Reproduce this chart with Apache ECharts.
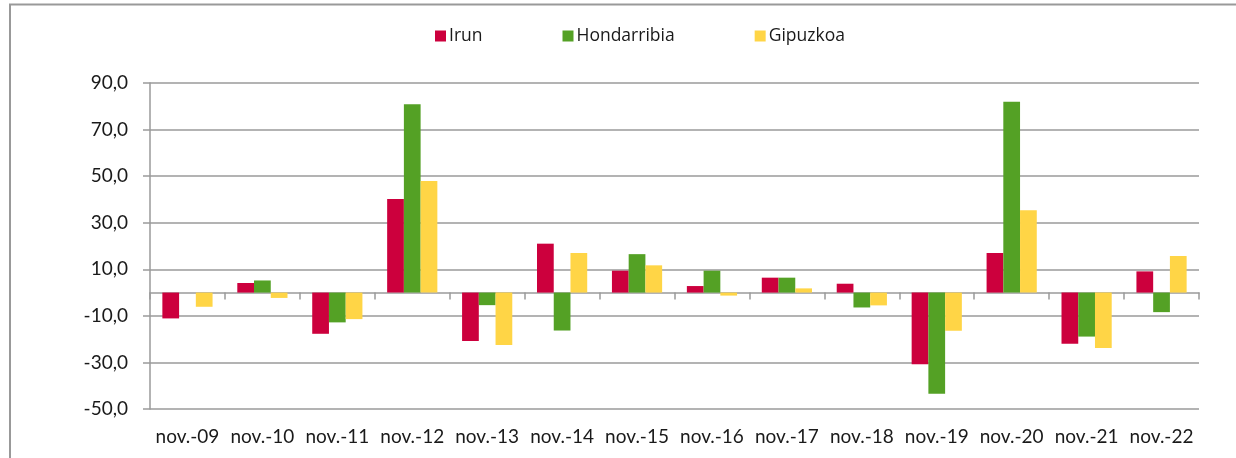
<!DOCTYPE html>
<html>
<head>
<meta charset="utf-8">
<script src="https://cdn.jsdelivr.net/npm/echarts@6/dist/echarts.min.js"></script>
<style>
html,body{margin:0;padding:0;background:#fff;}
#chart{width:1236px;height:458px;}
</style>
</head>
<body>
<div id="chart"></div>
<script>
const categories = ['nov.-09','nov.-10','nov.-11','nov.-12','nov.-13','nov.-14','nov.-15','nov.-16','nov.-17','nov.-18','nov.-19','nov.-20','nov.-21','nov.-22'];
const irun        = [-11.1, 4.1, -17.7, 40.2, -20.8, 21.0, 9.4, 2.8, 6.4, 3.8, -30.8, 17.0, -22.0, 9.1];
const hondarribia = [0.0, 5.2, -12.8, 80.9, -5.4, -16.3, 16.5, 9.4, 6.4, -6.4, -43.5, 81.9, -18.9, -8.4];
const gipuzkoa    = [-6.1, -2.3, -11.4, 47.9, -22.5, 17.0, 11.7, -1.3, 1.8, -5.5, -16.4, 35.3, -23.8, 15.7];
const yTickValues = [-50, -30, -10, 10, 30, 50, 70, 90];
const yTickLabels = ['-50,0', '-30,0', '-10,0', '10,0', '30,0', '50,0', '70,0', '90,0'];

const chart = echarts.init(document.getElementById('chart'));
const gridColor = '#9a9a9a';
const axisFont = { fontFamily: 'Lato', fontSize: 19, color: '#1a1a1a' };

chart.setOption({
  animation: false,
  backgroundColor: '#fff',
  graphic: [{
    type: 'rect', silent: true,
    shape: { x: 10, y: 4.5, width: 1240, height: 455 },
    style: { fill: 'none', stroke: '#999', lineWidth: 2 }
  }],
  legend: {
    left: 430, top: 22,
    itemWidth: 11, itemHeight: 11, itemGap: 80,
    icon: 'rect',
    textStyle: { fontFamily: 'Open Sans', fontSize: 17.5, color: '#1a1a1a', padding: [0, 0, 0, -2] },
    data: ['Irun', 'Hondarribia', 'Gipuzkoa']
  },
  grid: { left: 150, right: 37, top: 83, bottom: 49, containLabel: false },
  xAxis: [{
    type: 'category', data: categories, position: 'bottom',
    axisLine: { show: false, onZero: false },
    axisTick: { show: false },
    axisLabel: Object.assign({ margin: 18, interval: 0 }, axisFont)
  }, {
    type: 'category', data: categories, position: 'bottom',
    axisLine: { show: true, onZero: true, lineStyle: { color: gridColor, width: 1.5 } },
    axisTick: { show: true, length: 7, alignWithLabel: false, interval: 0, lineStyle: { color: gridColor, width: 1.5 } },
    axisLabel: { show: false }
  }],
  yAxis: [{
    type: 'value', min: -50, max: 90, interval: 10,
    axisLine: { show: true, lineStyle: { color: gridColor, width: 1.5 } },
    axisTick: { show: false },
    splitLine: { show: true, lineStyle: { color: [gridColor, 'rgba(0,0,0,0)'], width: 1.5 } },
    axisLabel: Object.assign({
      margin: 22,
      formatter: function (v) {
        const i = yTickValues.indexOf(Math.round(v));
        return i >= 0 ? yTickLabels[i] : '';
      }
    }, axisFont)
  }, {
    type: 'value', min: 0, max: 140, interval: 20, position: 'left',
    axisLine: { show: false },
    axisTick: { show: true, length: 7, lineStyle: { color: gridColor, width: 1.5 } },
    splitLine: { show: false },
    axisLabel: { show: false }
  }],
  series: [
    { name: 'Irun', type: 'bar', data: irun, barGap: '0%', barCategoryGap: '33%',
      itemStyle: { color: '#CC003D' } },
    { name: 'Hondarribia', type: 'bar', data: hondarribia, barGap: '0%', barCategoryGap: '33%',
      itemStyle: { color: '#54A125' } },
    { name: 'Gipuzkoa', type: 'bar', data: gipuzkoa, barGap: '0%', barCategoryGap: '33%',
      itemStyle: { color: '#FFD546' } }
  ]
});
</script>
</body>
</html>
